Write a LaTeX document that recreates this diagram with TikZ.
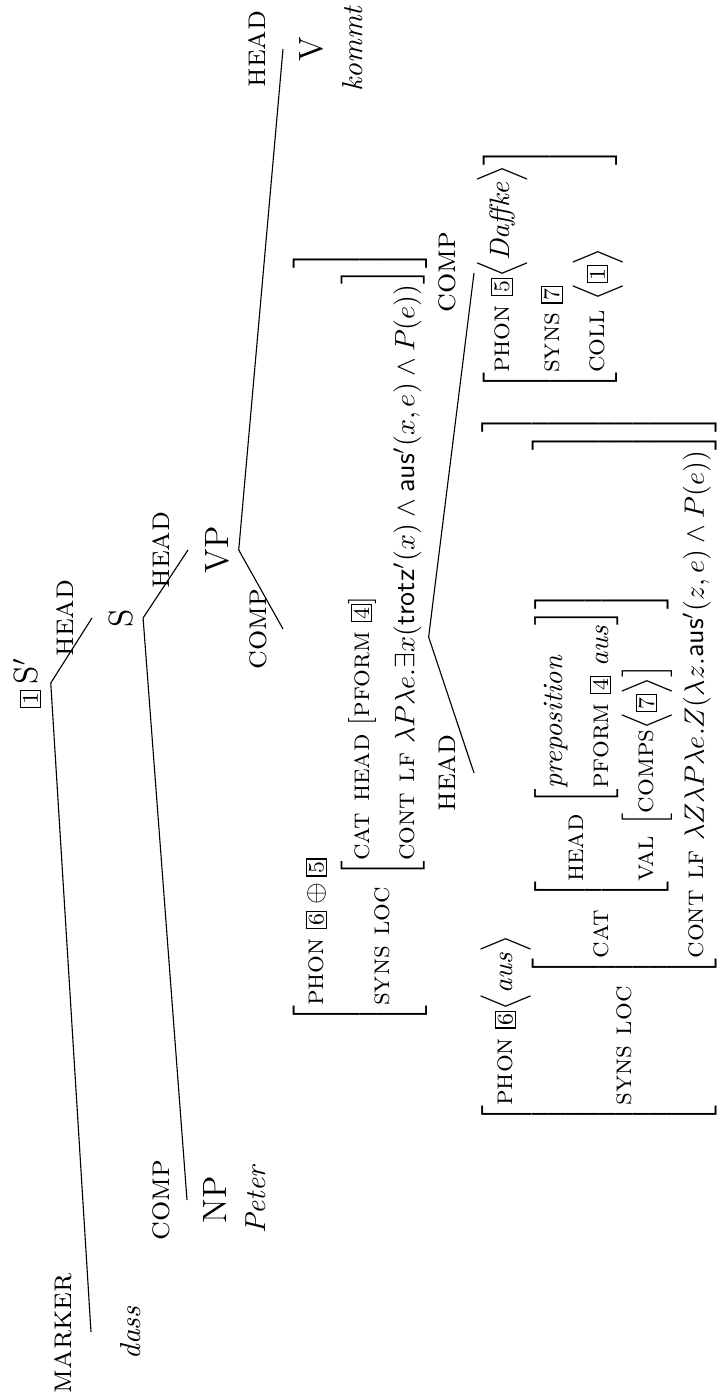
\documentclass[tikz,border=0pt]{standalone}
\usetikzlibrary{positioning}
\newcommand{\tagnum}[1]{{\setlength{\fboxsep}{0.7pt}\fbox{\footnotesize #1}}}
\newcommand{\feat}[1]{\textsc{#1}}
\renewcommand{\arraystretch}{1.35}
\tikzset{
  cat/.style={font=\large},
  elab/.style={font=\fontsize{11.4pt}{13pt}\selectfont, inner sep=1pt},
  leaf/.style={font=\fontsize{10.3pt}{12pt}\selectfont\itshape},
  avm/.style={inner sep=0pt},
  edge/.style={line width=0.4pt, black}
}
\begin{document}
\begin{tikzpicture}[x=0.357pt, y=0.357pt, rotate=90, transform shape]
\useasboundingbox (0,0) rectangle (1399,-725);
% tree
\node[cat] (sbar) at (716,-27) {\tagnum{1}\,S$'$};
\coordinate (dass-in) at (67,-91);
\coordinate (s-in) at (781,-92);
\node[elab] (lab-dass) at (66,-63) {\feat{marker}};
\node[leaf] (dass) at (66,-131) {dass};
\node[elab] (lab-s) at (781,-65) {\feat{head}};
\node[cat] (s) at (781,-121) {S};
\coordinate (np-in) at (199,-187);
\coordinate (vp-in) at (849,-188);
\node[elab] (lab-np) at (199,-161) {\feat{comp}};
\node[cat] (np) at (199,-215) {NP};
\node[leaf, below=0pt of np] (peter) {Peter};
\node[elab] (lab-vp) at (849,-161) {\feat{head}};
\node[cat] (vp) at (849,-217) {VP};
\coordinate (avm1-in) at (770,-283);
\coordinate (v-in) at (1350,-283);
\node[elab] (lab-avm1) at (770,-258) {\feat{comp}};
\node[elab] (lab-v) at (1350,-257) {\feat{head}};
\node[cat] (v) at (1350,-311) {V};
\node[leaf, below=0pt of v] (kommt) {kommt};
% feature structures
\node[avm] (avm1) at (762,-360) {$\left[\begin{array}{@{}l@{}}
  \feat{phon}\ \tagnum{6}\oplus\tagnum{5}\\
  \feat{syns loc}\,\left[\begin{array}{@{}l@{}}
    \feat{cat head}\,\left[\feat{pform}\ \tagnum{4}\right]\\
    \feat{cont lf}\ \lambda P\lambda e.\exists x(\textsf{trotz}'(x)\wedge\textsf{aus}'(x,e)\wedge P(e))
  \end{array}\right]
\end{array}\right]$};
\coordinate (avm2-in) at (626,-474);
\coordinate (daffke-in) at (1126,-474);
\node[elab] (lab-avm2) at (626,-447) {\feat{head}};
\node[elab] (lab-daffke) at (1127,-447) {\feat{comp}};
\node[avm] (avm2) at (630,-599) {$\left[\begin{array}{@{}l@{}}
  \feat{phon}\ \tagnum{6}\Big\langle\textit{aus}\Big\rangle\\
  \feat{syns loc}\,\left[\begin{array}{@{}l@{}}
    \feat{cat}\,\left[\begin{array}{@{}l@{}}
      \feat{head}\,\left[\begin{array}{@{}l@{}}
        \textit{preposition}\\
        \feat{pform}\ \tagnum{4}\ \textit{aus}
      \end{array}\right]\\
      \feat{val}\,\left[\feat{comps}\Big\langle\tagnum{7}\Big\rangle\right]
    \end{array}\right]\\
    \feat{cont lf}\ \lambda Z\lambda P\lambda e.Z(\lambda z.\textsf{aus}'(z,e)\wedge P(e))
  \end{array}\right]
\end{array}\right]$};
\node[avm] (daffke) at (1130,-550) {$\left[\begin{array}{@{}l@{}}
  \feat{phon}\ \tagnum{5}\Big\langle\textit{Daffke}\Big\rangle\\
  \feat{syns}\ \tagnum{7}\\
  \feat{coll}\ \Big\langle\tagnum{1}\Big\rangle
\end{array}\right]$};
% branches
\draw[edge] (sbar.south) -- (dass-in);
\draw[edge] (sbar.south) -- (s-in);
\draw[edge] (s.south) -- (np-in);
\draw[edge] (s.south) -- (vp-in);
\draw[edge] (vp.south) -- (avm1-in);
\draw[edge] (vp.south) -- (v-in);
\draw[edge] (avm1.south) -- (avm2-in);
\draw[edge] (avm1.south) -- (daffke-in);
\end{tikzpicture}
\end{document}
